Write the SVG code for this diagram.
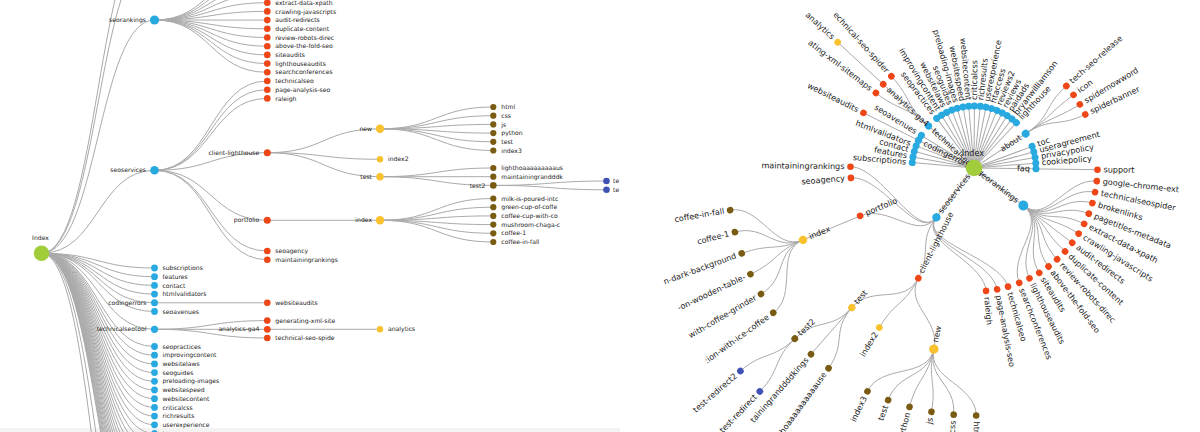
<svg xmlns="http://www.w3.org/2000/svg" width="1200" height="432" viewBox="0 0 1200 432">
<defs>
<clipPath id="lp"><rect x="0" y="0" width="620" height="432"/></clipPath>
<style>
.lk{fill:none;stroke:#aaa;stroke-width:1}
.t{font-family:"DejaVu Sans","Liberation Sans",sans-serif;fill:#222}
.tl{font-size:6.1px}
.tr{font-size:8.1px;fill:#1a1a1a}
.e{text-anchor:end}
.m{text-anchor:middle}
.c0{fill:#a2cd3a}.c1{fill:#28a9e0}.c2{fill:#ee4616}.c3{fill:#f8c12d}.c4{fill:#7a5b13}.c5{fill:#3f52b4}
</style>
</defs>
<rect width="1200" height="432" fill="#fff"/>
<rect x="0" y="428" width="620" height="4" fill="#f3f3f3"/>

<g id="left-connectors" class="lk" clip-path="url(#lp)">
<path d="M41.5,253.3C98,253.3 98,-75 154.5,-75"/>
<path d="M41.5,253.3C98,253.3 98,-47 154.5,-47"/>
<path d="M41.5,253.3C98,253.3 98,20 154.5,20"/>
<path d="M41.5,253.3C98,253.3 98,170.3 154.5,170.3"/>
<path d="M41.5,253.3C98,253.3 98,268 154.5,268"/>
<path d="M41.5,253.3C98,253.3 98,276.7 154.5,276.7"/>
<path d="M41.5,253.3C98,253.3 98,285.4 154.5,285.4"/>
<path d="M41.5,253.3C98,253.3 98,294.1 154.5,294.1"/>
<path d="M41.5,253.3C98,253.3 98,302.8 154.5,302.8"/>
<path d="M41.5,253.3C98,253.3 98,311.5 154.5,311.5"/>
<path d="M41.5,253.3C98,253.3 98,329.3 154.5,329.3"/>
<path d="M41.5,253.3C98,253.3 98,346.5 154.5,346.5"/>
<path d="M41.5,253.3C98,253.3 98,355.2 154.5,355.2"/>
<path d="M41.5,253.3C98,253.3 98,363.9 154.5,363.9"/>
<path d="M41.5,253.3C98,253.3 98,372.6 154.5,372.6"/>
<path d="M41.5,253.3C98,253.3 98,381.3 154.5,381.3"/>
<path d="M41.5,253.3C98,253.3 98,390 154.5,390"/>
<path d="M41.5,253.3C98,253.3 98,398.7 154.5,398.7"/>
<path d="M41.5,253.3C98,253.3 98,407.4 154.5,407.4"/>
<path d="M41.5,253.3C98,253.3 98,416.1 154.5,416.1"/>
<path d="M41.5,253.3C98,253.3 98,424.8 154.5,424.8"/>
<path d="M41.5,253.3C98,253.3 98,433.5 154.5,433.5"/>
<path d="M41.5,253.3C98,253.3 98,442.2 154.5,442.2"/>
<path d="M41.5,253.3C98,253.3 98,450.9 154.5,450.9"/>
<path d="M41.5,253.3C98,253.3 98,459.6 154.5,459.6"/>
<path d="M41.5,253.3C98,253.3 98,468.3 154.5,468.3"/>
<path d="M41.5,253.3C98,253.3 98,477 154.5,477"/>
<path d="M41.5,253.3C98,253.3 98,485.7 154.5,485.7"/>
<path d="M41.5,253.3C98,253.3 98,494.4 154.5,494.4"/>
<path d="M41.5,253.3C98,253.3 98,503.1 154.5,503.1"/>
<path d="M41.5,253.3C98,253.3 98,511.8 154.5,511.8"/>
<path d="M41.5,253.3C98,253.3 98,520.5 154.5,520.5"/>
<path d="M41.5,253.3C98,253.3 98,529.2 154.5,529.2"/>
<path d="M41.5,253.3C98,253.3 98,537.9 154.5,537.9"/>
<path d="M41.5,253.3C98,253.3 98,546.6 154.5,546.6"/>
<path d="M41.5,253.3C98,253.3 98,555.3 154.5,555.3"/>
<path d="M41.5,253.3C98,253.3 98,564 154.5,564"/>
<path d="M41.5,253.3C98,253.3 98,572.7 154.5,572.7"/>
<path d="M41.5,253.3C98,253.3 98,581.4 154.5,581.4"/>
<path d="M41.5,253.3C98,253.3 98,640 154.5,640"/>
<path d="M41.5,253.3C98,253.3 98,720 154.5,720"/>
<path d="M154.5,20C210.9,20 210.9,-32.2 267.3,-32.2"/>
<path d="M154.5,20C210.9,20 210.9,-23.5 267.3,-23.5"/>
<path d="M154.5,20C210.9,20 210.9,-14.8 267.3,-14.8"/>
<path d="M154.5,20C210.9,20 210.9,-6.1 267.3,-6.1"/>
<path d="M154.5,20C210.9,20 210.9,2.7 267.3,2.7"/>
<path d="M154.5,20C210.9,20 210.9,11.4 267.3,11.4"/>
<path d="M154.5,20C210.9,20 210.9,20.1 267.3,20.1"/>
<path d="M154.5,20C210.9,20 210.9,28.8 267.3,28.8"/>
<path d="M154.5,20C210.9,20 210.9,37.5 267.3,37.5"/>
<path d="M154.5,20C210.9,20 210.9,46.2 267.3,46.2"/>
<path d="M154.5,20C210.9,20 210.9,54.9 267.3,54.9"/>
<path d="M154.5,20C210.9,20 210.9,63.6 267.3,63.6"/>
<path d="M154.5,20C210.9,20 210.9,72.3 267.3,72.3"/>
<path d="M154.5,170.3C210.9,170.3 210.9,81 267.3,81"/>
<path d="M154.5,170.3C210.9,170.3 210.9,89.7 267.3,89.7"/>
<path d="M154.5,170.3C210.9,170.3 210.9,98.4 267.3,98.4"/>
<path d="M154.5,170.3C210.9,170.3 210.9,152.7 267.3,152.7"/>
<path d="M154.5,170.3C210.9,170.3 210.9,220.3 267.3,220.3"/>
<path d="M154.5,170.3C210.9,170.3 210.9,251 267.3,251"/>
<path d="M154.5,170.3C210.9,170.3 210.9,259.7 267.3,259.7"/>
<path d="M154.5,302.8L267.3,302.8"/>
<path d="M154.5,329.3C210.9,329.3 210.9,320.6 267.3,320.6"/>
<path d="M154.5,329.3L267.3,329.3"/>
<path d="M154.5,329.3C210.9,329.3 210.9,338 267.3,338"/>
<path d="M267.3,152.7C323.7,152.7 323.7,128.8 380,128.8"/>
<path d="M267.3,152.7C323.7,152.7 323.7,159.3 380,159.3"/>
<path d="M267.3,152.7C323.7,152.7 323.7,176.7 380,176.7"/>
<path d="M267.3,220.3L380,220.3"/>
<path d="M267.3,329.3L380,329.3"/>
<path d="M380,128.8C436.7,128.8 436.7,107 493.3,107"/>
<path d="M380,128.8C436.7,128.8 436.7,115.7 493.3,115.7"/>
<path d="M380,128.8C436.7,128.8 436.7,124.4 493.3,124.4"/>
<path d="M380,128.8C436.7,128.8 436.7,133.1 493.3,133.1"/>
<path d="M380,128.8C436.7,128.8 436.7,141.8 493.3,141.8"/>
<path d="M380,128.8C436.7,128.8 436.7,150.5 493.3,150.5"/>
<path d="M380,176.7C436.7,176.7 436.7,168 493.3,168"/>
<path d="M380,176.7L493.3,176.7"/>
<path d="M380,176.7C436.7,176.7 436.7,185.4 493.3,185.4"/>
<path d="M380,220.3C436.7,220.3 436.7,198.5 493.3,198.5"/>
<path d="M380,220.3C436.7,220.3 436.7,207.2 493.3,207.2"/>
<path d="M380,220.3C436.7,220.3 436.7,215.9 493.3,215.9"/>
<path d="M380,220.3C436.7,220.3 436.7,224.6 493.3,224.6"/>
<path d="M380,220.3C436.7,220.3 436.7,233.3 493.3,233.3"/>
<path d="M380,220.3C436.7,220.3 436.7,242 493.3,242"/>
<path d="M493.3,185.4C549.9,185.4 549.9,181 606.5,181"/>
<path d="M493.3,185.4C549.9,185.4 549.9,189.8 606.5,189.8"/>
</g>

<g id="left-nodes" clip-path="url(#lp)">
<g id="L-Index"><circle class="c0" cx="41.5" cy="253.3" r="7.7"/><text class="t tl m" x="40.5" y="240">Index</text></g>
<g id="L-seorankings"><circle class="c1" cx="154.5" cy="20" r="4.6"/><text class="t tl e" x="146" y="20" dy=".35em">seorankings</text></g>
<g id="L-seoservices"><circle class="c1" cx="154.5" cy="170.3" r="4.3"/><text class="t tl e" x="146" y="170.3" dy=".35em">seoservices</text></g>
<g id="L-subscriptions"><circle class="c1" cx="154.5" cy="268" r="3.4"/><text class="t tl" x="162.5" y="268" dy=".35em">subscriptions</text></g>
<g id="L-features"><circle class="c1" cx="154.5" cy="276.7" r="3.4"/><text class="t tl" x="162.5" y="276.7" dy=".35em">features</text></g>
<g id="L-contact"><circle class="c1" cx="154.5" cy="285.4" r="3.4"/><text class="t tl" x="162.5" y="285.4" dy=".35em">contact</text></g>
<g id="L-htmlvalidators"><circle class="c1" cx="154.5" cy="294.1" r="3.4"/><text class="t tl" x="162.5" y="294.1" dy=".35em">htmlvalidators</text></g>
<g id="L-codingerrors"><circle class="c1" cx="154.5" cy="302.8" r="3.5"/><text class="t tl e" x="146.5" y="302.8" dy=".35em">codingerrors</text></g>
<g id="L-seoavenues"><circle class="c1" cx="154.5" cy="311.5" r="3.4"/><text class="t tl" x="162.5" y="311.5" dy=".35em">seoavenues</text></g>
<g id="L-technicalseotool"><circle class="c1" cx="154.5" cy="329.3" r="3.6"/><text class="t tl e" x="146.5" y="329.3" dy=".35em">technicalseotool</text></g>
<g id="L-seopractices"><circle class="c1" cx="154.5" cy="346.5" r="3.4"/><text class="t tl" x="162.5" y="346.5" dy=".35em">seopractices</text></g>
<g id="L-improvingcontent"><circle class="c1" cx="154.5" cy="355.2" r="3.4"/><text class="t tl" x="162.5" y="355.2" dy=".35em">improvingcontent</text></g>
<g id="L-websitelaws"><circle class="c1" cx="154.5" cy="363.9" r="3.4"/><text class="t tl" x="162.5" y="363.9" dy=".35em">websitelaws</text></g>
<g id="L-seoguides"><circle class="c1" cx="154.5" cy="372.6" r="3.4"/><text class="t tl" x="162.5" y="372.6" dy=".35em">seoguides</text></g>
<g id="L-preloading-images"><circle class="c1" cx="154.5" cy="381.3" r="3.4"/><text class="t tl" x="162.5" y="381.3" dy=".35em">preloading-images</text></g>
<g id="L-websitespeed"><circle class="c1" cx="154.5" cy="390" r="3.4"/><text class="t tl" x="162.5" y="390" dy=".35em">websitespeed</text></g>
<g id="L-websitecontent"><circle class="c1" cx="154.5" cy="398.7" r="3.4"/><text class="t tl" x="162.5" y="398.7" dy=".35em">websitecontent</text></g>
<g id="L-criticalcss"><circle class="c1" cx="154.5" cy="407.4" r="3.4"/><text class="t tl" x="162.5" y="407.4" dy=".35em">criticalcss</text></g>
<g id="L-richresults"><circle class="c1" cx="154.5" cy="416.1" r="3.4"/><text class="t tl" x="162.5" y="416.1" dy=".35em">richresults</text></g>
<g id="L-userexperience"><circle class="c1" cx="154.5" cy="424.8" r="3.4"/><text class="t tl" x="162.5" y="424.8" dy=".35em">userexperience</text></g>
<g id="L-htaccess"><circle class="c1" cx="154.5" cy="433.5" r="3.4"/><text class="t tl" x="162.5" y="433.5" dy=".35em">htaccess</text></g>

<g id="L-extract-data-xpath"><circle class="c2" cx="267.3" cy="2.7" r="3.3"/><text class="t tl" x="275.3" y="2.7" dy=".35em">extract-data-xpath</text></g>
<g id="L-crawling-javascripts"><circle class="c2" cx="267.3" cy="11.4" r="3.3"/><text class="t tl" x="275.3" y="11.4" dy=".35em">crawling-javascripts</text></g>
<g id="L-audit-redirects"><circle class="c2" cx="267.3" cy="20.1" r="3.3"/><text class="t tl" x="275.3" y="20.1" dy=".35em">audit-redirects</text></g>
<g id="L-duplicate-content"><circle class="c2" cx="267.3" cy="28.8" r="3.3"/><text class="t tl" x="275.3" y="28.8" dy=".35em">duplicate-content</text></g>
<g id="L-review-robots"><circle class="c2" cx="267.3" cy="37.5" r="3.3"/><text class="t tl" x="275.3" y="37.5" dy=".35em">review-robots-direc</text></g>
<g id="L-above-the-fold-seo"><circle class="c2" cx="267.3" cy="46.2" r="3.3"/><text class="t tl" x="275.3" y="46.2" dy=".35em">above-the-fold-seo</text></g>
<g id="L-siteaudits"><circle class="c2" cx="267.3" cy="54.9" r="3.3"/><text class="t tl" x="275.3" y="54.9" dy=".35em">siteaudits</text></g>
<g id="L-lighthouseaudits"><circle class="c2" cx="267.3" cy="63.6" r="3.3"/><text class="t tl" x="275.3" y="63.6" dy=".35em">lighthouseaudits</text></g>
<g id="L-searchconferences"><circle class="c2" cx="267.3" cy="72.3" r="3.3"/><text class="t tl" x="275.3" y="72.3" dy=".35em">searchconferences</text></g>
<g id="L-technicalseo"><circle class="c2" cx="267.3" cy="81" r="3.3"/><text class="t tl" x="275.3" y="81" dy=".35em">technicalseo</text></g>
<g id="L-page-analysis-seo"><circle class="c2" cx="267.3" cy="89.7" r="3.3"/><text class="t tl" x="275.3" y="89.7" dy=".35em">page-analysis-seo</text></g>
<g id="L-raleigh"><circle class="c2" cx="267.3" cy="98.4" r="3.3"/><text class="t tl" x="275.3" y="98.4" dy=".35em">raleigh</text></g>
<g id="L-client-lighthouse"><circle class="c2" cx="267.3" cy="152.7" r="3.5"/><text class="t tl e" x="259.3" y="152.7" dy=".35em">client-lighthouse</text></g>
<g id="L-portfolio"><circle class="c2" cx="267.3" cy="220.3" r="3.5"/><text class="t tl e" x="259.3" y="220.3" dy=".35em">portfolio</text></g>
<g id="L-seoagency"><circle class="c2" cx="267.3" cy="251" r="3.3"/><text class="t tl" x="275.3" y="251" dy=".35em">seoagency</text></g>
<g id="L-maintainingrankings"><circle class="c2" cx="267.3" cy="259.7" r="3.3"/><text class="t tl" x="275.3" y="259.7" dy=".35em">maintainingrankings</text></g>
<g id="L-websiteaudits"><circle class="c2" cx="267.3" cy="302.8" r="3.3"/><text class="t tl" x="275.3" y="302.8" dy=".35em">websiteaudits</text></g>
<g id="L-generating-xml"><circle class="c2" cx="267.3" cy="320.6" r="3.3"/><text class="t tl" x="275.3" y="320.6" dy=".35em">generating-xml-site</text></g>
<g id="L-analytics-ga4"><circle class="c2" cx="267.3" cy="329.3" r="3.4"/><text class="t tl e" x="259.3" y="329.3" dy=".35em">analytics-ga4</text></g>
<g id="L-technical-seo-spider"><circle class="c2" cx="267.3" cy="338" r="3.3"/><text class="t tl" x="275.3" y="338" dy=".35em">technical-seo-spide</text></g>

<g id="L-new"><circle class="c3" cx="380" cy="128.8" r="4.2"/><text class="t tl e" x="372" y="128.8" dy=".35em">new</text></g>
<g id="L-index2"><circle class="c3" cx="380" cy="159.3" r="3.2"/><text class="t tl" x="388" y="159.3" dy=".35em">index2</text></g>
<g id="L-test"><circle class="c3" cx="380" cy="176.7" r="3.7"/><text class="t tl e" x="372" y="176.7" dy=".35em">test</text></g>
<g id="L-index"><circle class="c3" cx="380" cy="220.3" r="4.2"/><text class="t tl e" x="372" y="220.3" dy=".35em">index</text></g>
<g id="L-analytics"><circle class="c3" cx="380" cy="329.3" r="3.2"/><text class="t tl" x="388" y="329.3" dy=".35em">analytics</text></g>

<g id="L-html"><circle class="c4" cx="493.3" cy="107" r="3.1"/><text class="t tl" x="501.3" y="107" dy=".35em">html</text></g>
<g id="L-css"><circle class="c4" cx="493.3" cy="115.7" r="3.1"/><text class="t tl" x="501.3" y="115.7" dy=".35em">css</text></g>
<g id="L-js"><circle class="c4" cx="493.3" cy="124.4" r="3.1"/><text class="t tl" x="501.3" y="124.4" dy=".35em">js</text></g>
<g id="L-python"><circle class="c4" cx="493.3" cy="133.1" r="3.1"/><text class="t tl" x="501.3" y="133.1" dy=".35em">python</text></g>
<g id="L-test-b"><circle class="c4" cx="493.3" cy="141.8" r="3.1"/><text class="t tl" x="501.3" y="141.8" dy=".35em">test</text></g>
<g id="L-index3"><circle class="c4" cx="493.3" cy="150.5" r="3.1"/><text class="t tl" x="501.3" y="150.5" dy=".35em">index3</text></g>
<g id="L-lighthoa"><circle class="c4" cx="493.3" cy="168" r="3.1"/><text class="t tl" x="501.3" y="168" dy=".35em">lighthoaaaaaaaaaus</text></g>
<g id="L-maintaininggrand"><circle class="c4" cx="493.3" cy="176.7" r="3.1"/><text class="t tl" x="501.3" y="176.7" dy=".35em">maintainingrandddk</text></g>
<g id="L-test2"><circle class="c4" cx="493.3" cy="185.4" r="3.3"/><text class="t tl e" x="485.3" y="185.4" dy=".35em">test2</text></g>
<g id="L-milk"><circle class="c4" cx="493.3" cy="198.5" r="3.1"/><text class="t tl" x="501.3" y="198.5" dy=".35em">milk-is-poured-intc</text></g>
<g id="L-green-cup"><circle class="c4" cx="493.3" cy="207.2" r="3.1"/><text class="t tl" x="501.3" y="207.2" dy=".35em">green-cup-of-coffe</text></g>
<g id="L-coffee-cup"><circle class="c4" cx="493.3" cy="215.9" r="3.1"/><text class="t tl" x="501.3" y="215.9" dy=".35em">coffee-cup-with-co</text></g>
<g id="L-mushroom"><circle class="c4" cx="493.3" cy="224.6" r="3.1"/><text class="t tl" x="501.3" y="224.6" dy=".35em">mushroom-chaga-c</text></g>
<g id="L-coffee-1"><circle class="c4" cx="493.3" cy="233.3" r="3.1"/><text class="t tl" x="501.3" y="233.3" dy=".35em">coffee-1</text></g>
<g id="L-coffee-in-fall"><circle class="c4" cx="493.3" cy="242" r="3.1"/><text class="t tl" x="501.3" y="242" dy=".35em">coffee-in-fall</text></g>

<g id="L-te1"><circle class="c5" cx="606.5" cy="181" r="3.3"/><text class="t tl" x="613" y="181" dy=".35em">te</text></g>
<g id="L-te2"><circle class="c5" cx="606.5" cy="189.8" r="3.3"/><text class="t tl" x="613" y="189.8" dy=".35em">te</text></g>
</g>

<g id="radial-connectors" class="lk">
<line x1="974" y1="168" x2="1036" y2="168" transform="rotate(37.3 974 168)"/>
<line x1="974" y1="168" x2="1036" y2="168" transform="rotate(127.3 974 168)"/>
<line x1="974" y1="168" x2="1036" y2="168" transform="rotate(185 974 168)"/>
<line x1="974" y1="168" x2="1036" y2="168" transform="rotate(190.3 974 168)"/>
<line x1="974" y1="168" x2="1036" y2="168" transform="rotate(195.6 974 168)"/>
<line x1="974" y1="168" x2="1036" y2="168" transform="rotate(200.9 974 168)"/>
<line x1="974" y1="168" x2="1036" y2="168" transform="rotate(206.5 974 168)"/>
<line x1="974" y1="168" x2="1036" y2="168" transform="rotate(211.8 974 168)"/>
<line x1="974" y1="168" x2="1036" y2="168" transform="rotate(222.7 974 168)"/>
<line x1="974" y1="168" x2="1036" y2="168" transform="rotate(233.1 974 168)"/>
<line x1="974" y1="168" x2="1036" y2="168" transform="rotate(238.4 974 168)"/>
<line x1="974" y1="168" x2="1036" y2="168" transform="rotate(243.8 974 168)"/>
<line x1="974" y1="168" x2="1036" y2="168" transform="rotate(249.1 974 168)"/>
<line x1="974" y1="168" x2="1036" y2="168" transform="rotate(254.4 974 168)"/>
<line x1="974" y1="168" x2="1036" y2="168" transform="rotate(259.8 974 168)"/>
<line x1="974" y1="168" x2="1036" y2="168" transform="rotate(265.1 974 168)"/>
<line x1="974" y1="168" x2="1036" y2="168" transform="rotate(-89.6 974 168)"/>
<line x1="974" y1="168" x2="1036" y2="168" transform="rotate(-84.2 974 168)"/>
<line x1="974" y1="168" x2="1036" y2="168" transform="rotate(-78.9 974 168)"/>
<line x1="974" y1="168" x2="1036" y2="168" transform="rotate(-73.6 974 168)"/>
<line x1="974" y1="168" x2="1036" y2="168" transform="rotate(-68.3 974 168)"/>
<line x1="974" y1="168" x2="1036" y2="168" transform="rotate(-62.9 974 168)"/>
<line x1="974" y1="168" x2="1036" y2="168" transform="rotate(-57.6 974 168)"/>
<line x1="974" y1="168" x2="1036" y2="168" transform="rotate(-52.3 974 168)"/>
<line x1="974" y1="168" x2="1036" y2="168" transform="rotate(-46.9 974 168)"/>
<line x1="974" y1="168" x2="1036" y2="168" transform="rotate(-33.6 974 168)"/>
<line x1="974" y1="168" x2="1036" y2="168" transform="rotate(-20.4 974 168)"/>
<line x1="974" y1="168" x2="1036" y2="168" transform="rotate(-15.1 974 168)"/>
<line x1="974" y1="168" x2="1036" y2="168" transform="rotate(-9.8 974 168)"/>
<line x1="974" y1="168" x2="1036" y2="168" transform="rotate(-4.5 974 168)"/>
<line x1="974" y1="168" x2="1036" y2="168" transform="rotate(0.8 974 168)"/>
<path d="M1023.3,205.6C1047.8,224.2 1066.2,177.9 1096.8,181.1"/>
<path d="M1023.3,205.6C1047.8,224.2 1065,186.2 1095.1,192.2"/>
<path d="M1023.3,205.6C1047.8,224.2 1062.9,194.3 1092.4,203.1"/>
<path d="M1023.3,205.6C1047.8,224.2 1060.2,202.3 1088.8,213.7"/>
<path d="M1023.3,205.6C1047.8,224.2 1056.7,210 1084.1,223.9"/>
<path d="M1023.3,205.6C1047.8,224.2 1052.6,217.3 1078.6,233.6"/>
<path d="M1023.3,205.6C1047.8,224.2 1047.8,224.2 1072.2,242.8"/>
<path d="M1023.3,205.6C1047.8,224.2 1042.4,230.7 1065.1,251.4"/>
<path d="M1023.3,205.6C1047.8,224.2 1036.4,236.6 1057.1,259.3"/>
<path d="M1023.3,205.6C1047.8,224.2 1030,242 1048.5,266.5"/>
<path d="M1023.3,205.6C1047.8,224.2 1023,246.7 1039.3,272.9"/>
<path d="M1023.3,205.6C1047.8,224.2 1015.7,250.9 1029.5,278.3"/>
<path d="M1023.3,205.6C1047.8,224.2 1008,254.3 1019.3,282.9"/>
<path d="M936.4,217.3C917.8,241.8 999.6,257.2 1008,286.7"/>
<path d="M936.4,217.3C917.8,241.8 991.4,259.1 997.1,289.3"/>
<path d="M936.4,217.3C917.8,241.8 983.1,260.3 986.1,290.9"/>
<path d="M936.4,217.3C917.8,241.8 932.2,250.8 918.3,278.2"/>
<path d="M936.4,217.3C917.8,241.8 888.5,203.9 860.2,215.9"/>
<path d="M936.4,217.3C917.8,241.8 881.6,175.4 850.9,177.9"/>
<path d="M936.4,217.3C917.8,241.8 881.3,167 850.5,166.7"/>
<path d="M918.5,140.3L863.5,112.9"/>
<path d="M928.4,126C905.8,105.1 900.3,111.7 875.9,93"/>
<path d="M928.4,126L883.2,84.3"/>
<path d="M928.4,126C905.8,105.1 911.9,99.1 891.4,76.2"/>
<path d="M1025.6,133.7C1051.3,116.7 1043.4,106.4 1066.4,86"/>
<path d="M1025.6,133.7C1051.3,116.7 1048.8,113.1 1073.5,94.9"/>
<path d="M1025.6,133.7C1051.3,116.7 1053.5,120.2 1079.9,104.4"/>
<path d="M1025.6,133.7C1051.3,116.7 1057.6,127.8 1085.3,114.4"/>
<path d="M1036,168.9L1097.5,169.7"/>
<path d="M883.2,84.3L837.7,42.2"/>
<path d="M918.3,278.2C904.3,305.9 940.6,318.8 933.9,349.1"/>
<path d="M918.3,278.2C904.3,305.9 895.1,300.9 879.3,327.5"/>
<path d="M918.3,278.2C904.3,305.9 872.2,284.3 851.8,307.6"/>
<path d="M860.2,215.9L803,239.9"/>
<path d="M933.9,349.1C927.1,379.4 975.9,384.5 976.2,415.5"/>
<path d="M933.9,349.1C927.1,379.4 956.3,383.8 953.7,414.7"/>
<path d="M933.9,349.1C927.1,379.4 936.8,381.3 931.5,411.8"/>
<path d="M933.9,349.1C927.1,379.4 917.6,377 909.5,407"/>
<path d="M933.9,349.1C927.1,379.4 898.9,371.1 888.1,400.1"/>
<path d="M933.9,349.1C927.1,379.4 880.8,363.4 867.5,391.4"/>
<path d="M851.8,307.6C831.4,330.9 846.7,343.2 828.5,368.2"/>
<path d="M851.8,307.6L811,354.2"/>
<path d="M851.8,307.6C831.4,330.9 817.2,317.3 794.8,338.7"/>
<path d="M803,239.9C774.4,251.9 798.4,294.6 773.3,312.8"/>
<path d="M803,239.9C774.4,251.9 787.7,278.2 761,294"/>
<path d="M803,239.9C774.4,251.9 778.4,260.9 750.4,274.2"/>
<path d="M803,239.9C774.4,251.9 770.8,242.8 741.7,253.5"/>
<path d="M803,239.9C774.4,251.9 764.9,224 734.9,232.1"/>
<path d="M803,239.9C774.4,251.9 760.7,204.9 730.1,210.1"/>
<path d="M794.8,338.7C772.3,360.1 781.4,369.1 759.9,391.5"/>
<path d="M794.8,338.7C772.3,360.1 763.8,350.7 740.4,371.1"/>
</g>

<g id="radial-nodes">
<g id="R-seorankings" transform="rotate(37.3 974 168) translate(1036 168)"><circle class="c1" r="5"/><text class="t tr e" x="-7" dy=".31em">seorankings</text></g>
<g id="R-seoservices" transform="rotate(127.3 974 168) translate(1036 168)"><circle class="c1" r="4.2"/><text class="t tr" transform="rotate(180)" x="6" dy=".31em">seoservices</text></g>
<g id="R-subscriptions" transform="rotate(185 974 168) translate(1036 168)"><circle class="c1" r="3.5"/><text class="t tr e" transform="rotate(180)" x="-6" dy=".31em">subscriptions</text></g>
<g id="R-features" transform="rotate(190.3 974 168) translate(1036 168)"><circle class="c1" r="3.5"/><text class="t tr e" transform="rotate(180)" x="-6" dy=".31em">features</text></g>
<g id="R-contact" transform="rotate(195.6 974 168) translate(1036 168)"><circle class="c1" r="3.5"/><text class="t tr e" transform="rotate(180)" x="-6" dy=".31em">contact</text></g>
<g id="R-htmlvalidators" transform="rotate(200.9 974 168) translate(1036 168)"><circle class="c1" r="3.5"/><text class="t tr e" transform="rotate(180)" x="-6" dy=".31em">htmlvalidators</text></g>
<g id="R-codingerrors" transform="rotate(206.5 974 168) translate(1036 168)"><circle class="c1" r="3.6"/><text class="t tr" transform="rotate(180)" x="6" dy=".31em">codingerrors</text></g>
<g id="R-seoavenues" transform="rotate(211.8 974 168) translate(1036 168)"><circle class="c1" r="3.5"/><text class="t tr e" transform="rotate(180)" x="-6" dy=".31em">seoavenues</text></g>
<g id="R-technicalseotool" transform="rotate(222.7 974 168) translate(1036 168)"><circle class="c1" r="3.6"/><text class="t tr" transform="rotate(180)" x="6" dy=".31em">technicalseotool</text></g>
<g id="R-seopractices" transform="rotate(233.1 974 168) translate(1036 168)"><circle class="c1" r="3.5"/><text class="t tr e" transform="rotate(180)" x="-6" dy=".31em">seopractices</text></g>
<g id="R-improvingcontent" transform="rotate(238.4 974 168) translate(1036 168)"><circle class="c1" r="3.5"/><text class="t tr e" transform="rotate(180)" x="-6" dy=".31em">improvingcontent</text></g>
<g id="R-websitelaws" transform="rotate(243.8 974 168) translate(1036 168)"><circle class="c1" r="3.5"/><text class="t tr e" transform="rotate(180)" x="-6" dy=".31em">websitelaws</text></g>
<g id="R-seoguides" transform="rotate(249.1 974 168) translate(1036 168)"><circle class="c1" r="3.5"/><text class="t tr e" transform="rotate(180)" x="-6" dy=".31em">seoguides</text></g>
<g id="R-preloading-images" transform="rotate(254.4 974 168) translate(1036 168)"><circle class="c1" r="3.5"/><text class="t tr e" transform="rotate(180)" x="-6" dy=".31em">preloading-images</text></g>
<g id="R-websitespeed" transform="rotate(259.8 974 168) translate(1036 168)"><circle class="c1" r="3.5"/><text class="t tr e" transform="rotate(180)" x="-6" dy=".31em">websitespeed</text></g>
<g id="R-websitecontent" transform="rotate(265.1 974 168) translate(1036 168)"><circle class="c1" r="3.5"/><text class="t tr e" transform="rotate(180)" x="-6" dy=".31em">websitecontent</text></g>
<g id="R-criticalcss" transform="rotate(-89.6 974 168) translate(1036 168)"><circle class="c1" r="3.5"/><text class="t tr" x="6" dy=".31em">criticalcss</text></g>
<g id="R-richresults" transform="rotate(-84.2 974 168) translate(1036 168)"><circle class="c1" r="3.5"/><text class="t tr" x="6" dy=".31em">richresults</text></g>
<g id="R-userexperience" transform="rotate(-78.9 974 168) translate(1036 168)"><circle class="c1" r="3.5"/><text class="t tr" x="6" dy=".31em">userexperience</text></g>
<g id="R-htaccess" transform="rotate(-73.6 974 168) translate(1036 168)"><circle class="c1" r="3.5"/><text class="t tr" x="6" dy=".31em">htaccess</text></g>
<g id="R-reviews2" transform="rotate(-68.3 974 168) translate(1036 168)"><circle class="c1" r="3.5"/><text class="t tr" x="6" dy=".31em">reviews2</text></g>
<g id="R-reviews" transform="rotate(-62.9 974 168) translate(1036 168)"><circle class="c1" r="3.5"/><text class="t tr" x="6" dy=".31em">reviews</text></g>
<g id="R-paidads" transform="rotate(-57.6 974 168) translate(1036 168)"><circle class="c1" r="3.5"/><text class="t tr" x="6" dy=".31em">paidads</text></g>
<g id="R-bryanwilliamson" transform="rotate(-52.3 974 168) translate(1036 168)"><circle class="c1" r="3.5"/><text class="t tr" x="6" dy=".31em">bryanwilliamson</text></g>
<g id="R-lighthouse" transform="rotate(-46.9 974 168) translate(1036 168)"><circle class="c1" r="3.5"/><text class="t tr" x="6" dy=".31em">lighthouse</text></g>
<g id="R-about" transform="rotate(-33.6 974 168) translate(1036 168)"><circle class="c1" r="3.9"/><text class="t tr e" x="-6" dy=".31em">about</text></g>
<g id="R-toc" transform="rotate(-20.4 974 168) translate(1036 168)"><circle class="c1" r="3.5"/><text class="t tr" x="6" dy=".31em">toc</text></g>
<g id="R-useragreement" transform="rotate(-15.1 974 168) translate(1036 168)"><circle class="c1" r="3.5"/><text class="t tr" x="6" dy=".31em">useragreement</text></g>
<g id="R-privacypolicy" transform="rotate(-9.8 974 168) translate(1036 168)"><circle class="c1" r="3.5"/><text class="t tr" x="6" dy=".31em">privacypolicy</text></g>
<g id="R-cookiepolicy" transform="rotate(-4.5 974 168) translate(1036 168)"><circle class="c1" r="3.5"/><text class="t tr" x="6" dy=".31em">cookiepolicy</text></g>
<g id="R-faq" transform="rotate(0.8 974 168) translate(1036 168)"><circle class="c1" r="3.5"/><text class="t tr e" x="-6" dy=".31em">faq</text></g>

<g id="R-websiteaudits" transform="rotate(206.5 974 168) translate(1097.5 168)"><circle class="c2" r="3.3"/><text class="t tr e" transform="rotate(180)" x="-6" dy=".31em">websiteaudits</text></g>
<g id="R-generating-xml" transform="rotate(217.4 974 168) translate(1097.5 168)"><circle class="c2" r="3.3"/><text class="t tr e" transform="rotate(180)" x="-6" dy=".31em">ating-xml-sitemaps</text></g>
<g id="R-analytics-ga4" transform="rotate(222.7 974 168) translate(1097.5 168)"><circle class="c2" r="3.3"/><text class="t tr" transform="rotate(180)" x="6" dy=".31em">analytics-ga4</text></g>
<g id="R-technical-seo-spider" transform="rotate(228 974 168) translate(1097.5 168)"><circle class="c2" r="3.3"/><text class="t tr e" transform="rotate(180)" x="-6" dy=".31em">echnical-seo-spider</text></g>
<g id="R-tech-seo-release" transform="rotate(-41.6 974 168) translate(1097.5 168)"><circle class="c2" r="3.3"/><text class="t tr" x="6" dy=".31em">tech-seo-release</text></g>
<g id="R-icon" transform="rotate(-36.3 974 168) translate(1097.5 168)"><circle class="c2" r="3.3"/><text class="t tr" x="6" dy=".31em">icon</text></g>
<g id="R-spidernowword" transform="rotate(-31 974 168) translate(1097.5 168)"><circle class="c2" r="3.3"/><text class="t tr" x="6" dy=".31em">spidernowword</text></g>
<g id="R-spiderbanner" transform="rotate(-25.7 974 168) translate(1097.5 168)"><circle class="c2" r="3.3"/><text class="t tr" x="6" dy=".31em">spiderbanner</text></g>
<g id="R-support" transform="rotate(0.8 974 168) translate(1097.5 168)"><circle class="c2" r="3.3"/><text class="t tr" x="6" dy=".31em">support</text></g>
<g id="R-google-chrome-ext" transform="rotate(6.1 974 168) translate(1097.5 168)"><circle class="c2" r="3.3"/><text class="t tr" x="6" dy=".31em">google-chrome-ext</text></g>
<g id="R-technicalseospider" transform="rotate(11.3 974 168) translate(1097.5 168)"><circle class="c2" r="3.3"/><text class="t tr" x="6" dy=".31em">technicalseospider</text></g>
<g id="R-brokenlinks" transform="rotate(16.5 974 168) translate(1097.5 168)"><circle class="c2" r="3.3"/><text class="t tr" x="6" dy=".31em">brokenlinks</text></g>
<g id="R-pagetitles-metadata" transform="rotate(21.7 974 168) translate(1097.5 168)"><circle class="c2" r="3.3"/><text class="t tr" x="6" dy=".31em">pagetitles-metadata</text></g>
<g id="R-extract-data-xpath" transform="rotate(26.9 974 168) translate(1097.5 168)"><circle class="c2" r="3.3"/><text class="t tr" x="6" dy=".31em">extract-data-xpath</text></g>
<g id="R-crawling-javascripts" transform="rotate(32.1 974 168) translate(1097.5 168)"><circle class="c2" r="3.3"/><text class="t tr" x="6" dy=".31em">crawling-javascripts</text></g>
<g id="R-audit-redirects" transform="rotate(37.3 974 168) translate(1097.5 168)"><circle class="c2" r="3.3"/><text class="t tr" x="6" dy=".31em">audit-redirects</text></g>
<g id="R-duplicate-content" transform="rotate(42.5 974 168) translate(1097.5 168)"><circle class="c2" r="3.3"/><text class="t tr" x="6" dy=".31em">duplicate-content</text></g>
<g id="R-review-robots" transform="rotate(47.7 974 168) translate(1097.5 168)"><circle class="c2" r="3.3"/><text class="t tr" x="6" dy=".31em">review-robots-direc</text></g>
<g id="R-above-the-fold-seo" transform="rotate(52.9 974 168) translate(1097.5 168)"><circle class="c2" r="3.3"/><text class="t tr" x="6" dy=".31em">above-the-fold-seo</text></g>
<g id="R-siteaudits" transform="rotate(58.1 974 168) translate(1097.5 168)"><circle class="c2" r="3.3"/><text class="t tr" x="6" dy=".31em">siteaudits</text></g>
<g id="R-lighthouseaudits" transform="rotate(63.3 974 168) translate(1097.5 168)"><circle class="c2" r="3.3"/><text class="t tr" x="6" dy=".31em">lighthouseaudits</text></g>
<g id="R-searchconferences" transform="rotate(68.5 974 168) translate(1097.5 168)"><circle class="c2" r="3.3"/><text class="t tr" x="6" dy=".31em">searchconferences</text></g>
<g id="R-technicalseo" transform="rotate(74 974 168) translate(1097.5 168)"><circle class="c2" r="3.3"/><text class="t tr" x="6" dy=".31em">technicalseo</text></g>
<g id="R-page-analysis-seo" transform="rotate(79.2 974 168) translate(1097.5 168)"><circle class="c2" r="3.3"/><text class="t tr" x="6" dy=".31em">page-analysis-seo</text></g>
<g id="R-raleigh" transform="rotate(84.4 974 168) translate(1097.5 168)"><circle class="c2" r="3.3"/><text class="t tr" x="6" dy=".31em">raleigh</text></g>
<g id="R-client-lighthouse" transform="rotate(116.8 974 168) translate(1097.5 168)"><circle class="c2" r="3.3"/><text class="t tr" transform="rotate(180)" x="6" dy=".31em">client-lighthouse</text></g>
<g id="R-portfolio" transform="rotate(157.2 974 168) translate(1097.5 168)"><circle class="c2" r="3.3"/><text class="t tr" transform="rotate(180)" x="6" dy=".31em">portfolio</text></g>
<g id="R-seoagency" transform="rotate(175.4 974 168) translate(1097.5 168)"><circle class="c2" r="3.3"/><text class="t tr e" transform="rotate(180)" x="-6" dy=".31em">seoagency</text></g>
<g id="R-maintainingrankings" transform="rotate(180.6 974 168) translate(1097.5 168)"><circle class="c2" r="3.3"/><text class="t tr e" transform="rotate(180)" x="-6" dy=".31em">maintainingrankings</text></g>

<g id="R-analytics" transform="rotate(222.7 974 168) translate(1159.5 168)"><circle class="c3" r="3.3"/><text class="t tr e" transform="rotate(180)" x="-6" dy=".31em">analytics</text></g>
<g id="R-new" transform="rotate(102.5 974 168) translate(1159.5 168)"><circle class="c3" r="4.7"/><text class="t tr" transform="rotate(180)" x="7" dy=".31em">new</text></g>
<g id="R-index2" transform="rotate(120.7 974 168) translate(1159.5 168)"><circle class="c3" r="3.3"/><text class="t tr e" transform="rotate(180)" x="-6" dy=".31em">index2</text></g>
<g id="R-test" transform="rotate(131.2 974 168) translate(1159.5 168)"><circle class="c3" r="3.6"/><text class="t tr" transform="rotate(180)" x="6" dy=".31em">test</text></g>
<g id="R-index" transform="rotate(157.2 974 168) translate(1159.5 168)"><circle class="c3" r="4.2"/><text class="t tr" transform="rotate(180)" x="7" dy=".31em">index</text></g>

<g id="R-html" transform="rotate(89.5 974 168) translate(1221.5 168)"><circle class="c4" r="3.3"/><text class="t tr" x="6" dy=".31em">html</text></g>
<g id="R-css" transform="rotate(94.7 974 168) translate(1221.5 168)"><circle class="c4" r="3.3"/><text class="t tr e" transform="rotate(180)" x="-6" dy=".31em">css</text></g>
<g id="R-js" transform="rotate(99.9 974 168) translate(1221.5 168)"><circle class="c4" r="3.3"/><text class="t tr e" transform="rotate(180)" x="-6" dy=".31em">js</text></g>
<g id="R-python" transform="rotate(105.1 974 168) translate(1221.5 168)"><circle class="c4" r="3.3"/><text class="t tr e" transform="rotate(180)" x="-6" dy=".31em">python</text></g>
<g id="R-test-b" transform="rotate(110.3 974 168) translate(1221.5 168)"><circle class="c4" r="3.3"/><text class="t tr e" transform="rotate(180)" x="-6" dy=".31em">test</text></g>
<g id="R-index3" transform="rotate(115.5 974 168) translate(1221.5 168)"><circle class="c4" r="3.3"/><text class="t tr e" transform="rotate(180)" x="-6" dy=".31em">index3</text></g>
<g id="R-lighthoa" transform="rotate(126 974 168) translate(1221.5 168)"><circle class="c4" r="3.3"/><text class="t tr e" transform="rotate(180)" x="-6" dy=".31em">thoaaaaaaaaaause</text></g>
<g id="R-maintaininggrand" transform="rotate(131.2 974 168) translate(1221.5 168)"><circle class="c4" r="3.3"/><text class="t tr e" transform="rotate(180)" x="-6" dy=".31em">tainingranddddkings</text></g>
<g id="R-test2" transform="rotate(136.4 974 168) translate(1221.5 168)"><circle class="c4" r="3.4"/><text class="t tr" transform="rotate(180)" x="6" dy=".31em">test2</text></g>
<g id="R-milk" transform="rotate(144.2 974 168) translate(1221.5 168)"><circle class="c4" r="3.3"/><text class="t tr e" transform="rotate(180)" x="-6" dy=".31em">:ion-with-ice-coffee</text></g>
<g id="R-green-cup" transform="rotate(149.4 974 168) translate(1221.5 168)"><circle class="c4" r="3.3"/><text class="t tr e" transform="rotate(180)" x="-6" dy=".31em">with-coffee-grinder</text></g>
<g id="R-coffee-cup" transform="rotate(154.6 974 168) translate(1221.5 168)"><circle class="c4" r="3.3"/><text class="t tr e" transform="rotate(180)" x="-6" dy=".31em">-on-wooden-table-</text></g>
<g id="R-mushroom" transform="rotate(159.8 974 168) translate(1221.5 168)"><circle class="c4" r="3.3"/><text class="t tr e" transform="rotate(180)" x="-6" dy=".31em">n-dark-background</text></g>
<g id="R-coffee-1" transform="rotate(165 974 168) translate(1221.5 168)"><circle class="c4" r="3.3"/><text class="t tr e" transform="rotate(180)" x="-6" dy=".31em">coffee-1</text></g>
<g id="R-coffee-in-fall" transform="rotate(170.2 974 168) translate(1221.5 168)"><circle class="c4" r="3.3"/><text class="t tr e" transform="rotate(180)" x="-6" dy=".31em">coffee-in-fall</text></g>

<g id="R-test-redirect" transform="rotate(133.8 974 168) translate(1283.5 168)"><circle class="c5" r="3.3"/><text class="t tr e" transform="rotate(180)" x="-6" dy=".31em">test-redirect</text></g>
<g id="R-test-redirect2" transform="rotate(139 974 168) translate(1283.5 168)"><circle class="c5" r="3.3"/><text class="t tr e" transform="rotate(180)" x="-6" dy=".31em">test-redirect2</text></g>

<g id="R-Index"><circle class="c0" cx="974" cy="168" r="8.3"/><text class="t tr m" x="973" y="156">Index</text></g>
</g>
</svg>
